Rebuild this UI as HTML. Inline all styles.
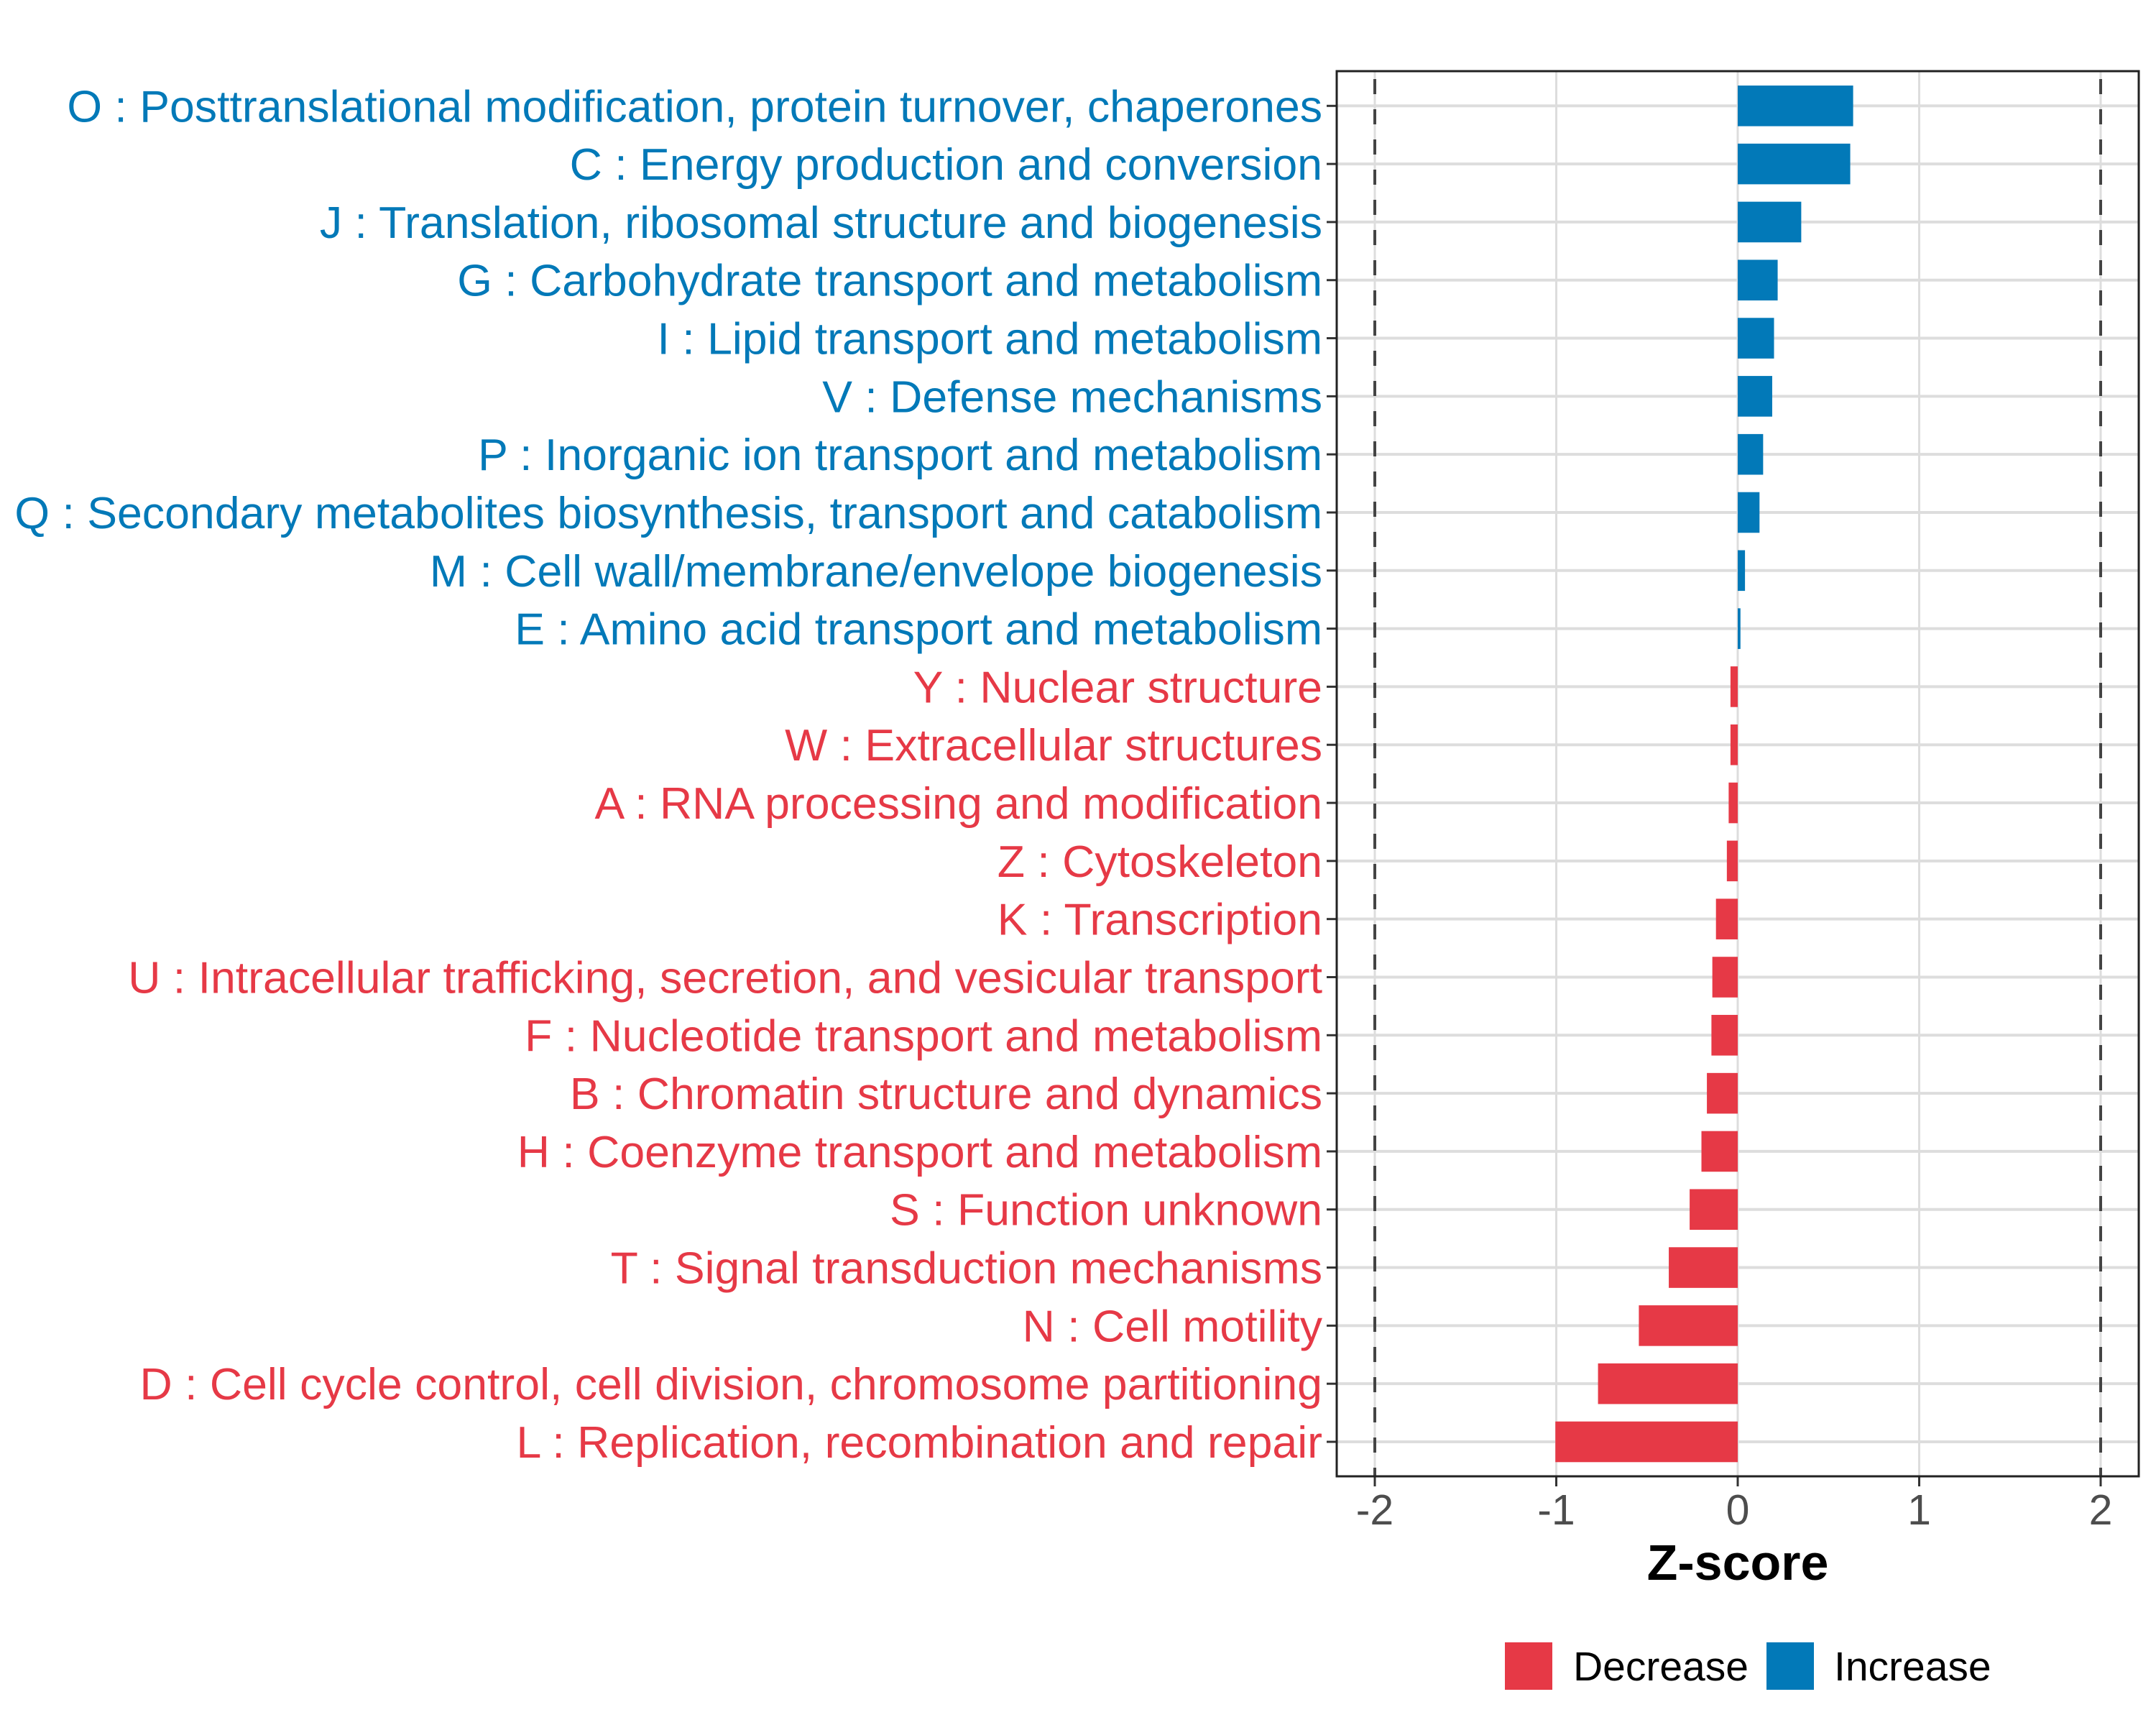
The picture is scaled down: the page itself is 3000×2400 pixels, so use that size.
<!DOCTYPE html>
<html><head><meta charset="utf-8"><style>
html,body{margin:0;padding:0;background:#fff;}
svg{display:block;font-family:"Liberation Sans",sans-serif;}
</style></head><body>
<svg id="chart" width="3000" height="2400" viewBox="0 0 3000 2400" xmlns="http://www.w3.org/2000/svg">
<g id="grid"></g>
<g id="bars"></g>
<g id="ylabels"></g>
<g id="xaxis"></g>
<text x="2418" y="2198" font-size="70" font-weight="bold" text-anchor="middle">Z-score</text>
<g>
<rect x="2094" y="2285" width="66" height="66" fill="#e63946"/>
<text x="2189" y="2338" font-size="57">Decrease</text>
<rect x="2458" y="2285" width="66" height="66" fill="#0279b8"/>
<text x="2552" y="2338" font-size="57">Increase</text>
</g>
</svg>
<script>
const categories = ["O : Posttranslational modification, protein turnover, chaperones","C : Energy production and conversion","J : Translation, ribosomal structure and biogenesis","G : Carbohydrate transport and metabolism","I : Lipid transport and metabolism","V : Defense mechanisms","P : Inorganic ion transport and metabolism","Q : Secondary metabolites biosynthesis, transport and catabolism","M : Cell wall/membrane/envelope biogenesis","E : Amino acid transport and metabolism","Y : Nuclear structure","W : Extracellular structures","A : RNA processing and modification","Z : Cytoskeleton","K : Transcription","U : Intracellular trafficking, secretion, and vesicular transport","F : Nucleotide transport and metabolism","B : Chromatin structure and dynamics","H : Coenzyme transport and metabolism","S : Function unknown","T : Signal transduction mechanisms","N : Cell motility","D : Cell cycle control, cell division, chromosome partitioning","L : Replication, recombination and repair"];
const zscores = [0.636,0.62,0.35,0.22,0.20,0.19,0.14,0.12,0.04,0.015,-0.04,-0.04,-0.05,-0.06,-0.12,-0.14,-0.145,-0.17,-0.2,-0.265,-0.38,-0.545,-0.77,-1.005];
const xTicks = [-2,-1,0,1,2];
const xTickLabels = ["-2","-1","0","1","2"];
const thresholds = [-2,2];

const NS="http://www.w3.org/2000/svg";
const PL=1860, PR=2976, PT=99, PB=2054;
const x0=2418, unit=252.5;
function xs(v){return x0+v*unit;}
const rowTop=147.3, rowStep=(2006-147.3)/23;
function ys(i){return rowTop+i*rowStep;}
function mk(tag,attrs,parent){const e=document.createElementNS(NS,tag);for(const k in attrs)e.setAttribute(k,attrs[k]);parent.appendChild(e);return e;}
const grid=document.getElementById('grid'),bars=document.getElementById('bars'),yl=document.getElementById('ylabels'),xa=document.getElementById('xaxis');
xTicks.forEach((t,i)=>{
  const l=mk('line',{x1:xs(t),x2:xs(t),y1:PT,y2:PB,stroke:'#dddddd','stroke-width':3},grid);
  
  
  const tk=mk('line',{x1:xs(t),x2:xs(t),y1:PB,y2:PB+14,stroke:'#333','stroke-width':3},xa);
  
  
  const tx=mk('text',{x:xs(t),y:2121,'font-size':59,fill:'#4d4d4d','text-anchor':'middle'},xa);
  tx.textContent=xTickLabels[i];
  
  
});
categories.forEach((c,i)=>{
  const y=ys(i);
  const g=mk('line',{x1:PL,x2:PR,y1:y,y2:y,stroke:'#dddddd','stroke-width':4},grid);
  
  
});
thresholds.forEach(t=>{
  const d=mk('line',{x1:xs(t),x2:xs(t),y1:PT,y2:PB,stroke:'#444','stroke-width':4,'stroke-dasharray':'21 21','stroke-dashoffset':'-11'},grid);
  
  
});
const bh=rowStep*0.7;
categories.forEach((c,i)=>{
  const v=zscores[i], y=ys(i);
  const col=v>=0?'#0279b8':'#e63946';
  const r=mk('rect',{x:Math.min(xs(0),xs(v)),y:y-bh/2,width:Math.abs(xs(v)-xs(0)),height:bh,fill:col},bars);
  
  
  const tk=mk('line',{x1:PL-14,x2:PL,y1:y,y2:y,stroke:'#333','stroke-width':3},yl);
  
  
  const t=mk('text',{x:1840,y:y+22,'font-size':62.6,fill:col,'text-anchor':'end'},yl);
  t.textContent=c;
  
  
});
const fr=mk('rect',{x:PL,y:PT,width:PR-PL,height:PB-PT,fill:'none',stroke:'#222','stroke-width':3},document.getElementById('chart'));


</script>
</body></html>
